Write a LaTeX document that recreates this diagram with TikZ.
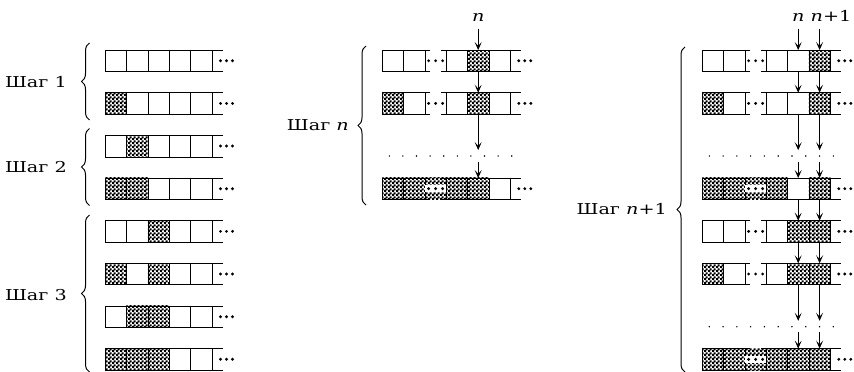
\documentclass[tikz,border=0pt]{standalone}
\usepackage{fontspec}
\setmainfont[FakeStretch=1.28]{DejaVu Serif}
\usetikzlibrary{patterns,arrows.meta,decorations.pathreplacing}
\pgfdeclarepatternformonly{checker}{\pgfpointorigin}{\pgfpoint{4pt}{4pt}}{\pgfpoint{4pt}{4pt}}{%
  \pgfpathrectangle{\pgfpointorigin}{\pgfpoint{2.4pt}{2.4pt}}%
  \pgfpathrectangle{\pgfpoint{2pt}{2pt}}{\pgfpoint{2.4pt}{2.4pt}}%
  \pgfusepath{fill}}
\tikzset{
  cell/.style={draw, line width=0.6pt, minimum width=21.4pt, minimum height=21.5pt, inner sep=0pt, outer sep=0pt},
  hcell/.style={cell, pattern=checker},
  arr/.style={-{Stealth[length=8pt,width=7pt,inset=4pt]}, line width=0.6pt},
  eline/.style={line width=0.6pt},
  lbl/.style={font=\fontsize{15}{17}\selectfont, inner sep=0pt},
  brc/.style={decorate, decoration={brace, amplitude=8pt}, line width=1pt},
}
\newcommand\seg[4]{%
  \foreach \f [count=\k] in {#4}{%
    \ifnum\f=1 \node[hcell, anchor=north west] (#1-\k) at ({#2+(\k-1)*21.4},#3) {};%
    \else \node[cell, anchor=north west] (#1-\k) at ({#2+(\k-1)*21.4},#3) {};\fi
  }}
\newcommand\tail[1]{%
  \draw[eline] (#1.north east) -- ++(10.5,0);
  \draw[eline] (#1.south east) -- ++(10.5,0);
  \foreach \d in {8.5,14.5,20.5} \fill ([xshift=\d pt]#1.east) circle (1.6);
}
\newcommand\gap[3]{%
  \ifnum#3=1
    \fill[pattern=checker] (#1.north east) rectangle (#2.south west);
    \fill[white] ([yshift=-3.5pt]#1.east) rectangle ([yshift=3.5pt]#2.west);
  \fi
  \draw[eline] (#1.north east) -- ++(5,0);
  \draw[eline] (#1.south east) -- ++(5,0);
  \draw[eline] (#2.north west) -- ++(-5,0);
  \draw[eline] (#2.south west) -- ++(-5,0);
  \foreach \d in {3.5,10.5,17.5} \fill ([xshift=\d pt]#1.east) circle (1.6);
}
\begin{document}
\begin{tikzpicture}[x=1pt,y=-1pt]
\useasboundingbox (0,0) rectangle (854,372);
% ---------- left ----------
\seg{L0}{105}{50}{0,0,0,0,0}\tail{L0-5}
\seg{L1}{105}{92.65}{1,0,0,0,0}\tail{L1-5}
\seg{L2}{105}{135.3}{0,1,0,0,0}\tail{L2-5}
\seg{L3}{105}{177.95}{1,1,0,0,0}\tail{L3-5}
\seg{L4}{105}{220.6}{0,0,1,0,0}\tail{L4-5}
\seg{L5}{105}{263.25}{1,0,1,0,0}\tail{L5-5}
\seg{L6}{105}{305.9}{0,1,1,0,0}\tail{L6-5}
\seg{L7}{105}{348.55}{1,1,1,0,0}\tail{L7-5}
\draw[brc] (89.5,120) -- (89.5,43);
\draw[brc] (89.5,205.5) -- (89.5,128.5);
\draw[brc] (89.5,372) -- (89.5,215);
\node[lbl, anchor=base east] (s1) at (67,87.7) {Шаг 1};
\node[lbl, anchor=base east] (s2) at (67,172.7) {Шаг 2};
\node[lbl, anchor=base east] (s3) at (67,300) {Шаг 3};
% ---------- middle ----------
\seg{MA0}{382.3}{50}{0,0}\seg{MB0}{446.1}{50}{0,1,0}\gap{MA0-2}{MB0-1}{0}\tail{MB0-3}
\seg{MA1}{382.3}{92.65}{1,0}\seg{MB1}{446.1}{92.65}{0,1,0}\gap{MA1-2}{MB1-1}{0}\tail{MB1-3}
\seg{MA3}{382.3}{177.95}{1,1}\seg{MB3}{446.1}{177.95}{1,1,0}\gap{MA3-2}{MB3-1}{1}\tail{MB3-3}
\foreach \i in {0,...,9} \fill ({389.3+\i*13.6},156) circle (0.8);
\draw[brc] (366,205) -- (366,46);
\node[lbl, anchor=base east] (sn) at (349,130) {Шаг \textit{n}};
\node[lbl, anchor=base] (ln) at (478.2,21) {\textit{n}};
\coordinate (mup) at (478.2,150);
\coordinate (mdn) at (478.2,161.5);
\draw[arr] ([yshift=-8pt]ln.base) -- (MB0-2.north);
\draw[arr] (MB0-2.south) -- (MB1-2.north);
\draw[arr] (MB1-2.south) -- (mup);
\draw[arr] (mdn) -- (MB3-2.north);
% ---------- right ----------
\seg{RA0}{702.3}{50}{0,0}\seg{RB0}{766.1}{50}{0,0,1}\gap{RA0-2}{RB0-1}{0}\tail{RB0-3}
\seg{RA1}{702.3}{92.65}{1,0}\seg{RB1}{766.1}{92.65}{0,0,1}\gap{RA1-2}{RB1-1}{0}\tail{RB1-3}
\seg{RA3}{702.3}{177.95}{1,1}\seg{RB3}{766.1}{177.95}{1,0,1}\gap{RA3-2}{RB3-1}{1}\tail{RB3-3}
\seg{RA4}{702.3}{220.6}{0,0}\seg{RB4}{766.1}{220.6}{0,1,1}\gap{RA4-2}{RB4-1}{0}\tail{RB4-3}
\seg{RA5}{702.3}{263.25}{1,0}\seg{RB5}{766.1}{263.25}{0,1,1}\gap{RA5-2}{RB5-1}{0}\tail{RB5-3}
\seg{RA7}{702.3}{348.55}{1,1}\seg{RB7}{766.1}{348.55}{1,1,1}\gap{RA7-2}{RB7-1}{1}\tail{RB7-3}
\foreach \i in {0,...,9} \fill ({709.3+\i*13.78},156) circle (0.8);
\foreach \i in {0,...,9} \fill ({709.3+\i*13.78},326.7) circle (0.8);
\draw[brc] (685,372) -- (685,47);
\node[lbl, anchor=base east] (sn1) at (667,214) {Шаг \textit{n}+1};
\node[lbl, anchor=base] (rn) at (798.2,21) {\textit{n}};
\node[lbl, anchor=base] (rn1) at (831,21) {\textit{n}+1};
\foreach \c/\lab in {2/rn,3/rn1}{
  \draw[arr] ([yshift=-8pt]\lab.base -| RB0-\c.north) -- (RB0-\c.north);
  \draw[arr] (RB0-\c.south) -- (RB1-\c.north);
  \draw[arr] (RB1-\c.south) -- ([yshift=-36pt]RB1-\c.south);
  \draw[arr] ([yshift=-47.5pt]RB1-\c.south) -- (RB3-\c.north);
  \draw[arr] (RB3-\c.south) -- (RB4-\c.north);
  \draw[arr] (RB4-\c.south) -- (RB5-\c.north);
  \draw[arr] (RB5-\c.south) -- ([yshift=-36pt]RB5-\c.south);
  \draw[arr] ([yshift=-47.5pt]RB5-\c.south) -- (RB7-\c.north);
}
\end{tikzpicture}
\end{document}
